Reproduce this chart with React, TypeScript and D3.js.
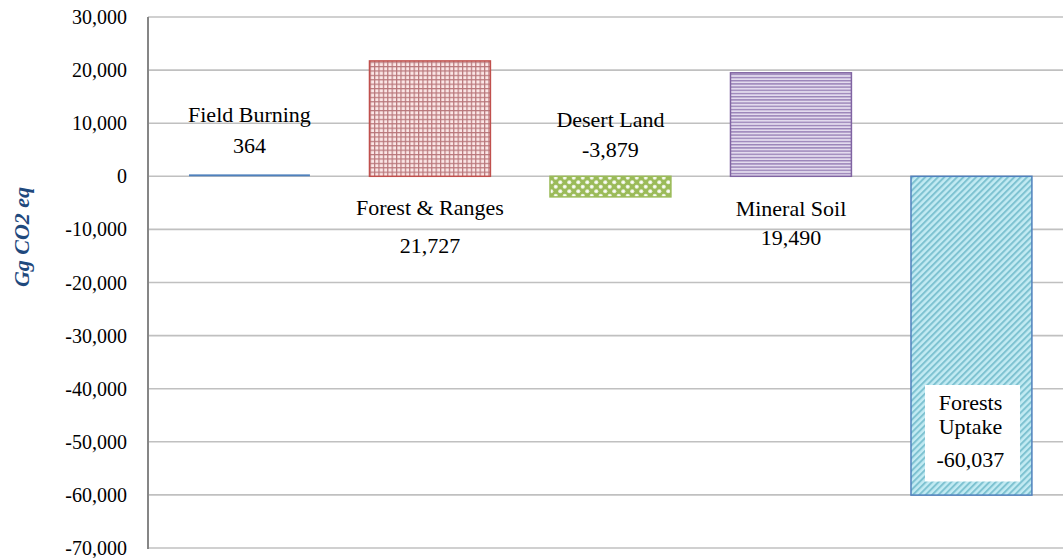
import React from "react";
import * as d3 from "d3";

const categories = ["Field Burning", "Forest & Ranges", "Desert Land", "Mineral Soil", "Forests Uptake"];
const values = [364, 21727, -3879, 19490, -60037];
const yTicks = [30000, 20000, 10000, 0, -10000, -20000, -30000, -40000, -50000, -60000, -70000];
const labelLines = [["Field Burning", "364"], ["Forest & Ranges", "21,727"], ["Desert Land", "-3,879"], ["Mineral Soil", "19,490"], ["Forests", "Uptake", "-60,037"]];

const W = 1063, H = 558;
const fills = ["#4F81BD", "url(#pRed)", "url(#pGreen)", "url(#pPurple)", "url(#pBlue)"];
const strokes = ["#4F81BD", "#C0504D", "#9BBB59", "#8064A2", "#4F81BD"];
const labelPos = [
  { dx: 0, ys: [122, 153] },
  { dx: 0, ys: [215, 253] },
  { dx: 0, ys: [127, 157] },
  { dx: 0, ys: [216, 245] },
  { dx: -1, ys: [410, 434, 467] },
];

export default function App() {
  const x = d3.scaleBand<string>().domain(categories).range([159.2, 1061.7]).paddingInner(0.33).paddingOuter(0.165);
  const y = d3.scaleLinear().domain([-70000, 30000]).range([548, 17]);
  const fmt = (v: number) => d3.format(",")(v).replace("\u2212", "-");
  const font = "Liberation Serif, Times New Roman, serif";
  return (
    <svg width={W} height={H} style={{ position: "absolute", left: 0, top: 0, background: "#fff", fontFamily: font }}>
      <defs>
        <pattern id="pRed" width="4.4" height="4.4" patternUnits="userSpaceOnUse">
          <rect width="4.4" height="4.4" fill="#fbe6e6" />
          <rect x="0" y="0" width="1.2" height="4.4" fill="#b8767a" />
          <rect x="0" y="0" width="4.4" height="1.2" fill="#b8767a" />
        </pattern>
        <pattern id="pGreen" width="9" height="9" patternUnits="userSpaceOnUse">
          <rect width="9" height="9" fill="#9BBB59" />
          <circle cx="2.25" cy="2.25" r="2.1" fill="#e8f0d8" />
          <circle cx="6.75" cy="6.75" r="2.1" fill="#e8f0d8" />
          <circle cx="2.25" cy="2.25" r="1" fill="#ffffff" />
          <circle cx="6.75" cy="6.75" r="1" fill="#ffffff" />
        </pattern>
        <pattern id="pPurple" width="10" height="3.2" patternUnits="userSpaceOnUse">
          <rect width="10" height="3.2" fill="#e3dbee" />
          <rect y="0" width="10" height="1.4" fill="#9a83b8" />
        </pattern>
        <pattern id="pBlue" width="4.5" height="4.5" patternUnits="userSpaceOnUse" patternTransform="rotate(45)">
          <rect width="4.5" height="4.5" fill="#c3ebf3" />
          <rect x="0" y="0" width="2" height="4.5" fill="#7ec2d1" />
        </pattern>
      </defs>
      {yTicks.map((t) => (
        <g key={t}>
          <line x1={148} x2={W} y1={y(t)} y2={y(t)} stroke="#c0c0c0" strokeWidth={1.6} />
          <text x={127} y={y(t) + 7} textAnchor="end" style={{ fontFamily: font }} fontSize={20} fill="#000">
            {fmt(t)}
          </text>
        </g>
      ))}
      <line x1={148} x2={148} y1={17} y2={549} stroke="#868686" strokeWidth={2} />
      {categories.map((c, i) => {
        const v = values[i];
        const y0 = y(Math.max(0, v));
        const h = Math.abs(y(v) - y(0));
        return (
          <rect key={c} x={x(c)} y={y0} width={x.bandwidth()} height={Math.max(h, 1)}
            fill={fills[i]} stroke={strokes[i]} strokeWidth={i === 0 ? 0 : 1.5} />
        );
      })}
      {(() => {
        const c = categories[4];
        const bx = x(c)! + 14;
        return <rect x={bx} y={385} width={95} height={96.5} fill="#fff" />;
      })()}
      {categories.map((c, i) => {
        const cx = x(c)! + x.bandwidth() / 2 + labelPos[i].dx;
        return labelLines[i].map((line, j) => (
          <text key={c + j} x={cx} y={labelPos[i].ys[j]} textAnchor="middle" style={{ fontFamily: font }} fontSize={22} fill="#000">
            {line}
          </text>
        ));
      })}
      <text transform={`translate(29,237) rotate(-90)`} textAnchor="middle" style={{ fontFamily: font }} fontSize={22}
        fontWeight="bold" fontStyle="italic" fill="#1F497D">
        Gg CO2 eq
      </text>
    </svg>
  );
}
